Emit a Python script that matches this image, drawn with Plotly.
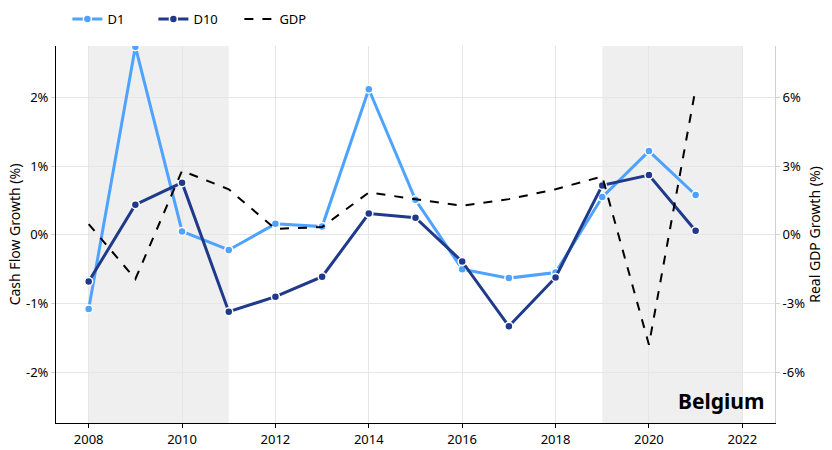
import plotly.graph_objects as go

years = list(range(2008, 2022))
d1 = [-1.08, 2.74, 0.05, -0.22, 0.16, 0.12, 2.12, 0.51, -0.50, -0.63, -0.55, 0.55, 1.22, 0.58]
d10 = [-0.68, 0.44, 0.76, -1.12, -0.90, -0.61, 0.31, 0.25, -0.39, -1.33, -0.62, 0.72, 0.87, 0.06]
gdp = [0.47, -1.93, 2.80, 1.99, 0.26, 0.34, 1.85, 1.56, 1.27, 1.56, 1.99, 2.55, -4.80, 6.40]
shade_periods = [(2008, 2011), (2019, 2022)]
left_ticks = [-2, -1, 0, 1, 2]
left_labels = ["-2%", "-1%", "0%", "1%", "2%"]
right_ticks = [-6, -3, 0, 3, 6]
right_labels = ["-6%", "-3%", "0%", "3%", "6%"]
x_ticks = [2008, 2010, 2012, 2014, 2016, 2018, 2020, 2022]
country = "Belgium"

FONT = "Noto Sans"
c_d1 = "#4DA3FF"
c_d10 = "#1F3A8A"

fig = go.Figure()
fig.add_trace(go.Scatter(x=years, y=d1, name="D1", mode="lines+markers",
                         line=dict(color=c_d1, width=3),
                         marker=dict(size=8, color=c_d1, line=dict(color="white", width=1.5))))
fig.add_trace(go.Scatter(x=years, y=d10, name="D10", mode="lines+markers",
                         line=dict(color=c_d10, width=3),
                         marker=dict(size=8, color=c_d10, line=dict(color="white", width=1.5))))
fig.add_trace(go.Scatter(x=years, y=gdp, name="GDP", mode="lines", yaxis="y2",
                         line=dict(color="black", width=2, dash="dash")))

for a, b in shade_periods:
    fig.add_shape(type="rect", xref="x", yref="paper", x0=a, x1=b, y0=0, y1=1,
                  fillcolor="#efefef", line=dict(width=0), layer="below")

fig.add_annotation(text="<b>%s</b>" % country, xref="paper", yref="paper",
                   x=0.988, y=0.015, xanchor="right", yanchor="bottom", showarrow=False,
                   font=dict(family=FONT, size=21, color="black"))

fig.update_layout(
    width=832, height=450,
    margin=dict(l=56, r=57, t=46, b=27),
    plot_bgcolor="white", paper_bgcolor="white",
    font=dict(family=FONT, size=13, color="black"),
    showlegend=True,
    legend=dict(orientation="h", xref="container", yref="container",
                x=0.081, y=1 - 19 / 450, xanchor="left", yanchor="middle",
                entrywidth=41, entrywidthmode="pixels",
                font=dict(size=13), bgcolor="rgba(0,0,0,0)"),
    xaxis=dict(range=[2007.3, 2022.7], tickvals=x_ticks, showgrid=True, gridcolor="#e6e6e6",
               gridwidth=1, zeroline=False, showline=True, linecolor="black", linewidth=1,
               ticks="outside", ticklen=4, tickcolor="black", tickfont=dict(size=13),
               automargin=False),
    yaxis=dict(range=[-2.74, 2.75], tickvals=left_ticks, ticktext=left_labels,
               showgrid=True, gridcolor="#e6e6e6", gridwidth=1, zeroline=False,
               showline=True, linecolor="black", linewidth=1,
               ticks="outside", ticklen=4, tickcolor="#d0d0d0",
               title=dict(text="Cash Flow Growth (%)", font=dict(size=14), standoff=2),
               tickfont=dict(size=13), automargin=False),
    yaxis2=dict(range=[-8.22, 8.25], tickvals=right_ticks, ticktext=right_labels,
                overlaying="y", side="right", showgrid=False, zeroline=False,
                showline=True, linecolor="#d0d0d0", linewidth=1,
                ticks="outside", ticklen=4, tickcolor="#d0d0d0",
                title=dict(text="Real GDP Growth (%)", font=dict(size=14), standoff=2),
                tickfont=dict(size=13), automargin=False),
)

fig.write_html("out.html")
